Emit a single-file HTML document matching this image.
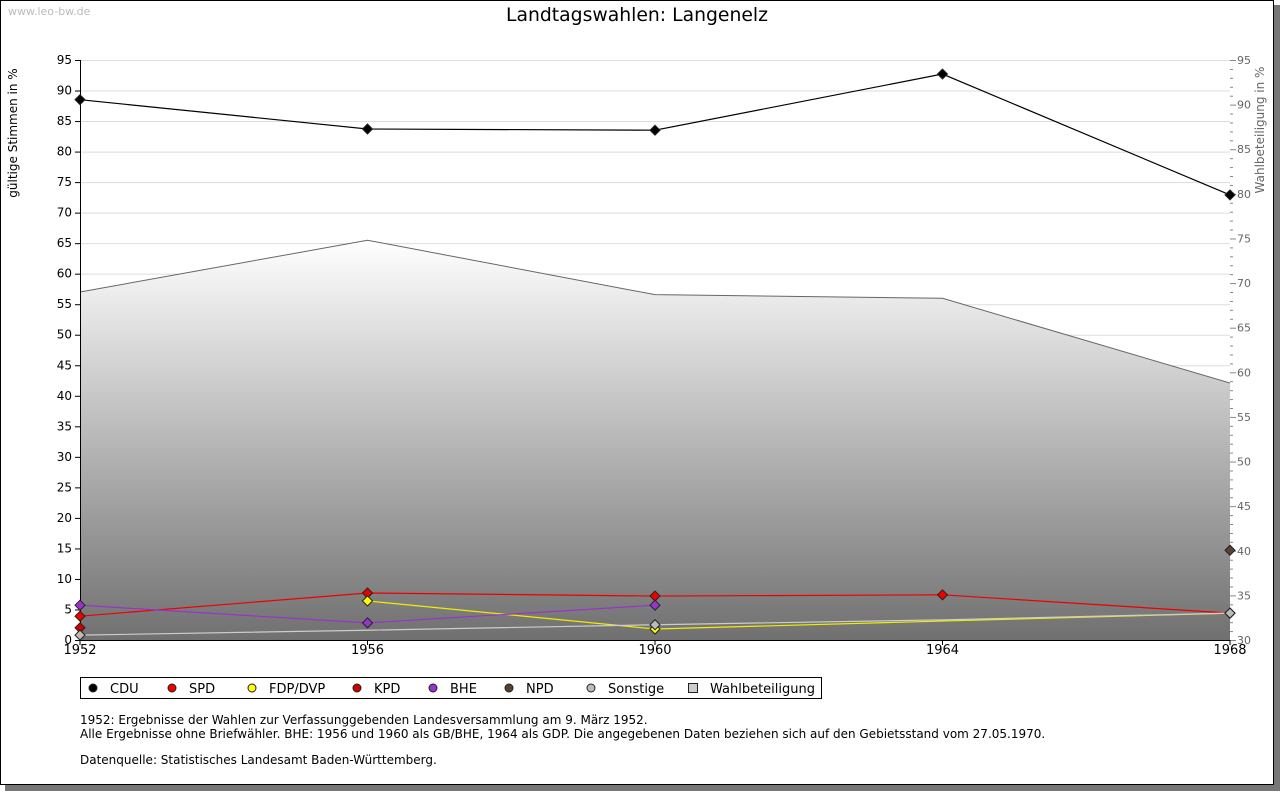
<!DOCTYPE html>
<html><head><meta charset="utf-8"><style>
body{margin:0;background:#fff;width:1280px;height:791px;overflow:hidden;font-family:"DejaVu Sans","Liberation Sans",sans-serif}
</style></head><body>
<svg id="c" width="1280" height="791" xmlns="http://www.w3.org/2000/svg">
<defs><linearGradient id="g" x1="0" y1="0" x2="0" y2="1"><stop offset="0" stop-color="#ffffff"/><stop offset="1" stop-color="#707070"/></linearGradient></defs>
<rect x="5" y="5" width="1275" height="786" fill="#777"/>
<rect x="0.5" y="0.5" width="1273" height="784" fill="#fff" stroke="#000"/>
<text x="8" y="15" font-size="11" fill="#bbb">www.leo-bw.de</text>
<text x="637" y="21" font-size="18.8" text-anchor="middle" fill="#000">Landtagswahlen: Langenelz</text>
<text transform="translate(17,133) rotate(-90)" font-size="12" text-anchor="middle">gültige Stimmen in %</text>
<text transform="translate(1264,130) rotate(-90)" font-size="12" text-anchor="middle" fill="#666">Wahlbeteiligung in %</text>
<g id="grid"></g><g id="area"></g><g id="axes"></g><g id="lines"></g>
<g>
<rect x="80.5" y="677.5" width="741" height="21" fill="#fff" stroke="#000"/>
<g id="leg"></g></g>
<text x="80" y="724" font-size="12">1952: Ergebnisse der Wahlen zur Verfassunggebenden Landesversammlung am 9. März 1952.</text>
<text x="80" y="738" font-size="12">Alle Ergebnisse ohne Briefwähler. BHE: 1956 und 1960 als GB/BHE, 1964 als GDP. Die angegebenen Daten beziehen sich auf den Gebietsstand vom 27.05.1970.</text>
<text x="80" y="764" font-size="12">Datenquelle: Statistisches Landesamt Baden-Württemberg.</text>
</svg>
<script>
const years=[1952,1956,1960,1964,1968];
const cdu=[88.5,83.7,83.5,92.7,72.9];
const spd=[3.9,7.7,7.2,7.4,4.4];
const fdp=[null,6.4,1.8,3.1,4.4];
const kpd=[2.0,null,null,null,null];
const bhe=[5.7,2.8,5.7,null,null];
const npd=[null,null,null,null,14.7];
const sonst=[0.8,1.6,2.5,3.3,4.4];
const turnout=[69.0,74.8,68.7,68.3,58.8];
const leftTicks=[0,5,10,15,20,25,30,35,40,45,50,55,60,65,70,75,80,85,90,95];
const rightTicks=[30,35,40,45,50,55,60,65,70,75,80,85,90,95];
const NS="http://www.w3.org/2000/svg";
const X0=80,X1=1230,Y0=640,Y1=60;
const xs=i=>X0+(X1-X0)*i/(years.length-1);
const yl=v=>Y0-(Y0-Y1)*v/95;
const yr=v=>Y0-(Y0-Y1)*(v-30)/65;
function mk(tag,a,p){const e=document.createElementNS(NS,tag);for(const k in a)e.setAttribute(k,a[k]);document.getElementById(p).appendChild(e);return e;}
leftTicks.forEach(v=>{
 const l=mk('line',{x1:X0,x2:X1,y1:yl(v)+.5,y2:yl(v)+.5,stroke:'#ddd'},'grid');
 
 
 mk('line',{x1:X0-5,x2:X0,y1:yl(v)+.5,y2:yl(v)+.5,stroke:'#000'},'axes');
 const t=mk('text',{x:X0-8,y:yl(v)+4,'font-size':12,'text-anchor':'end'},'axes');t.textContent=v;
 
 
});
rightTicks.forEach(v=>{
 mk('line',{x1:X1,x2:X1+6,y1:yr(v)+.5,y2:yr(v)+.5,stroke:'#888'},'axes');
 const t=mk('text',{x:X1+7,y:yr(v)+4,'font-size':11,fill:'#666'},'axes');t.textContent=v;
 
 
});
for(let v=30;v<95;v++){if(v%5)mk('line',{x1:X1,x2:X1+3,y1:yr(v)+.5,y2:yr(v)+.5,stroke:'#888'},'axes');}
let d='M'+X0+','+Y0;turnout.forEach((v,i)=>d+=' L'+xs(i)+','+yr(v));d+=' L'+X1+','+Y0+'Z';
const ar=mk('path',{d:d,fill:'url(#g)'},'area');


mk('polyline',{points:turnout.map((v,i)=>xs(i)+','+yr(v)).join(' '),fill:'none',stroke:'#666'},'area');
mk('line',{x1:X0+.5,x2:X0+.5,y1:Y1,y2:Y0,stroke:'#000'},'axes');
mk('line',{x1:X0,x2:X1,y1:Y0+.5,y2:Y0+.5,stroke:'#000'},'axes');
years.forEach((y,i)=>{mk('line',{x1:xs(i),x2:xs(i),y1:Y0,y2:Y0+5,stroke:'#000'},'axes');
 const t=mk('text',{x:xs(i),y:Y0+14,'font-size':13,'text-anchor':'middle'},'axes');t.textContent=y;
 
 });
const series=[['CDU',cdu,'#000','#000'],['SPD',spd,'#e00','#e00'],['FDP/DVP',fdp,'#ff0','#ee0'],['KPD',kpd,'#c00','#c00'],['BHE',bhe,'#93c','#93c'],['NPD',npd,'#5a4030','#5a4030'],['Sonstige',sonst,'#bbb','#ccc']];
function dia(x,y,f,p){return mk('path',{d:`M${x},${y-5}L${x+5},${y}L${x},${y+5}L${x-5},${y}Z`,fill:f,stroke:'#222'},p);}
series.forEach(([n,vals,f,lc])=>{
 let pts=[];vals.forEach((v,i)=>{if(v!=null)pts.push(xs(i)+','+yl(v));});
 if(pts.length>1){const pl=mk('polyline',{points:pts.join(' '),fill:'none',stroke:lc,'stroke-width':1.2},'lines');
  
  }
});
series.forEach(([n,vals,f])=>{vals.forEach((v,i)=>{if(v==null)return;if(n==='FDP/DVP'&&i===3)return;if(n==='Sonstige'&&i===1)return;if(n==='Sonstige'&&i===3)return;
 const m=dia(xs(i),yl(v),f,'lines');
 
 });});
const legX=[93,172,252,357,433,509,591];
series.forEach(([n,v,f],i)=>{const x=legX[i];
 const e=mk('circle',{cx:x,cy:688,r:4,fill:f,stroke:'#222'},'leg');
 
 
 const t=mk('text',{x:x+17,y:693,'font-size':13},'leg');t.textContent=n;
 
 });
const r=mk('rect',{x:688.5,y:683.5,width:9,height:9,fill:'#ccc',stroke:'#222'},'leg');


const tw=mk('text',{x:710,y:693,'font-size':13},'leg');tw.textContent='Wahlbeteiligung';


</script>
</body></html>
